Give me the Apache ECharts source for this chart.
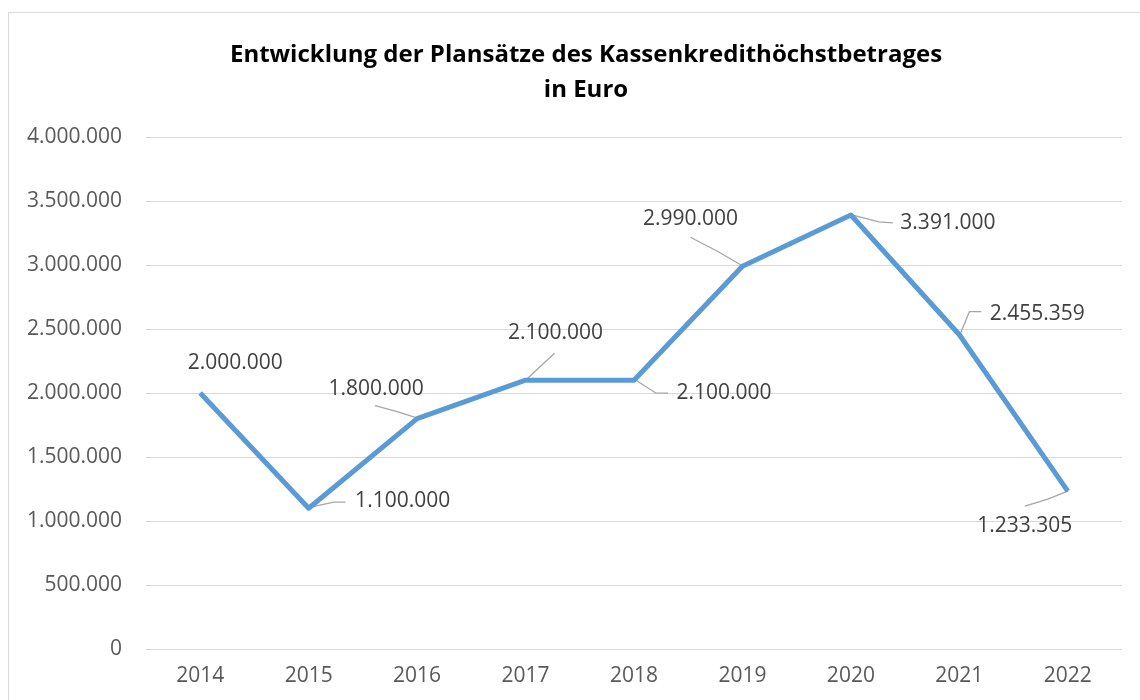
<!DOCTYPE html>
<html>
<head>
<meta charset="utf-8">
<script src="https://cdn.jsdelivr.net/npm/echarts@6/dist/echarts.min.js"></script>
<style>
html,body{margin:0;padding:0;background:#fff;}
#frame{position:absolute;left:8px;top:12px;width:1140px;height:700px;border-left:1px solid #D9D9D9;border-top:1px solid #D9D9D9;box-sizing:border-box;}
#chart{position:absolute;left:0;top:0;width:1140px;height:700px;}
</style>
</head>
<body>
<div id="frame"></div>
<div id="chart"></div>
<script>
const titleLines = ["Entwicklung der Plansätze des Kassenkredithöchstbetrages", "in Euro"];
const categories = ["2014","2015","2016","2017","2018","2019","2020","2021","2022"];
const values = [2000000, 1100000, 1800000, 2100000, 2100000, 2990000, 3391000, 2455359, 1233305];
const yTicks = {min: 0, max: 4000000, interval: 500000};

// label placement (pixel offsets of label centre from the point) and leader line shapes
const labelOffsets = [[35,-30],[94,-7],[-41,-30],[30,-47],[90,13],[-52,-47],[97,8],[78,-21],[-43,35]];
const leaderLines = [
  null,
  [[2,-1],[25,-6],[37,-6]],
  [[-1,-1],[-20,-7],[-42,-13]],
  [[1,-1],[15,-14],[29,-27]],
  [[2,0],[22,13],[34,13]],
  [[-1,-1],[-25,-15],[-52,-29]],
  [[1,0],[28,7],[42,8]],
  [[1,-1],[10,-23],[22,-23]],
  [[0,0],[-20,8],[-43,15]]
];

function fmt(v){ return String(v).replace(/\B(?=(\d{3})+(?!\d))/g, "."); }

const chart = echarts.init(document.getElementById('chart'), null, {renderer:'canvas'});
const font = '"Open Sans", sans-serif';
chart.setOption({
  animation: false,
  backgroundColor: 'transparent',
  textStyle: {fontFamily: font},
  title: {
    text: titleLines.join('\n'),
    left: 581, top: 33, textAlign: 'center',
    textStyle: {fontFamily: font, fontWeight: 'bold', fontSize: 24, color: '#000', lineHeight: 35}
  },
  grid: {left: 146, right: 18, top: 137, bottom: 51},
  xAxis: {
    type: 'category', data: categories, boundaryGap: true,
    axisLine: {show: false}, axisTick: {show: false},
    axisLabel: {color: '#595959', fontSize: 21, fontFamily: font, margin: 17}
  },
  yAxis: {
    type: 'value', min: yTicks.min, max: yTicks.max, interval: yTicks.interval,
    axisLine: {show: false}, axisTick: {show: false},
    splitLine: {lineStyle: {color: '#D9D9D9', width: 1}},
    axisLabel: {color: '#595959', fontSize: 21, fontFamily: font, margin: 24, formatter: v => fmt(v)}
  },
  series: [{
    type: 'custom',
    data: values.map((v, i) => [i, v]),
    z: 1,
    silent: true,
    renderItem: function(params, api){
      const i = params.dataIndex;
      const shape = leaderLines[i];
      if (!shape) return null;
      const pt = api.coord([api.value(0), api.value(1)]);
      return {
        type: 'polyline',
        shape: {points: shape.map(q => [pt[0] + q[0], pt[1] + q[1]])},
        style: {stroke: '#A6A6A6', lineWidth: 1.3, fill: null}
      };
    }
  }, {
    type: 'line', data: values, z: 2,
    symbol: 'circle', symbolSize: 1, showSymbol: true,
    itemStyle: {color: '#5B9BD5'},
    lineStyle: {color: '#5B9BD5', width: 5, join: 'round'},
    label: {show: true, formatter: p => fmt(p.value), color: '#404040', fontSize: 21, fontFamily: font},
    labelLayout: function(params){
      const i = params.dataIndex;
      const pt = chart.convertToPixel({gridIndex: 0}, [i, values[i]]);
      const off = labelOffsets[i];
      return {x: pt[0] + off[0], y: pt[1] + off[1], align: 'center', verticalAlign: 'middle'};
    }
  }]
});
</script>
</body>
</html>
